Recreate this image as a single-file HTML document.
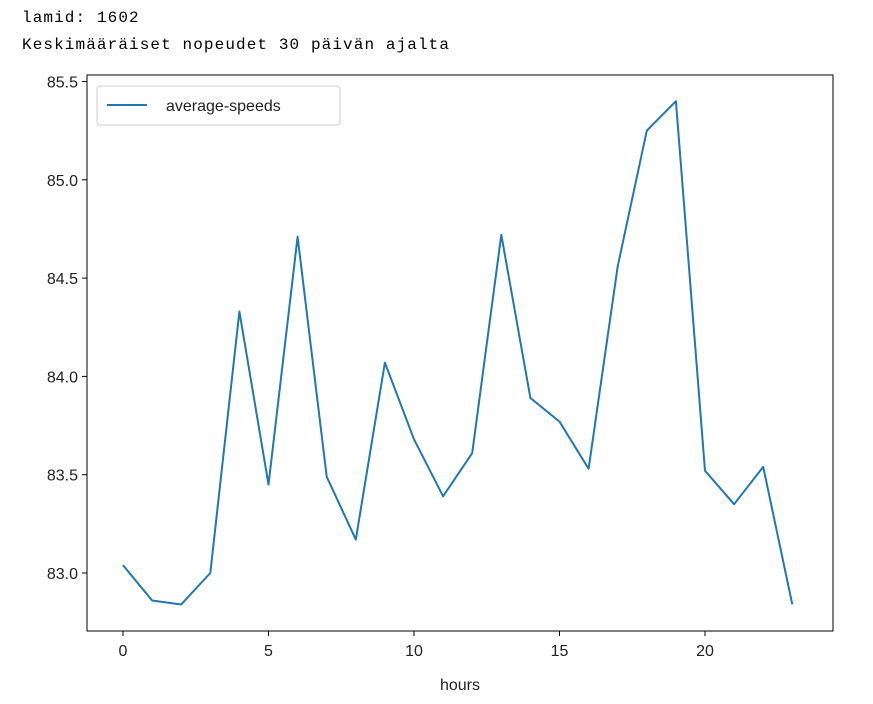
<!DOCTYPE html>
<html><head><meta charset="utf-8"><style>
body{margin:0;background:#fff;width:873px;height:704px;overflow:hidden;}
.hdr{position:absolute;left:22px;font-family:"Liberation Mono",monospace;font-size:16px;letter-spacing:1.1px;color:#000;}
svg{position:absolute;left:0;top:0;}
text{font-family:"Liberation Sans",sans-serif;font-size:16px;fill:#222;}
</style></head><body>
<div class="hdr" style="top:9px">lamid: 1602</div>
<div class="hdr" style="top:36px">Keskimääräiset nopeudet 30 päivän ajalta</div>
<svg id="chart" width="873" height="704"></svg>
<script>
const hours=[0,1,2,3,4,5,6,7,8,9,10,11,12,13,14,15,16,17,18,19,20,21,22,23];
const speeds=[83.04,82.86,82.84,83.00,84.33,83.45,84.71,83.49,83.17,84.07,83.68,83.39,83.61,84.72,83.89,83.77,83.53,84.56,85.25,85.40,83.52,83.35,83.54,82.84];
const xTicks=[0,5,10,15,20];
const yTicks=[83.0,83.5,84.0,84.5,85.0,85.5];
const L=87,R=833,T=75,B=631;
const xs=v=>123+v*29.1;
const ys=v=>573-(v-83)*196.6;
const svg=document.getElementById('chart');
const NS='http://www.w3.org/2000/svg';
function mk(t,a){const e=document.createElementNS(NS,t);for(const k in a)e.setAttribute(k,a[k]);svg.appendChild(e);return e;}
const frame=mk('rect',{x:L,y:T,width:R-L,height:B-T,fill:'none',stroke:'#000','stroke-width':1});


xTicks.forEach(v=>{
 const l=mk('line',{x1:xs(v),x2:xs(v),y1:B,y2:B+5,stroke:'#000'});
 
 
 const t=mk('text',{x:xs(v),y:B+25,'text-anchor':'middle'});t.textContent=v;
 
 
});
yTicks.forEach(v=>{
 const l=mk('line',{x1:L-5,x2:L,y1:ys(v),y2:ys(v),stroke:'#000'});
 
 
 const t=mk('text',{x:L-9,y:ys(v)+6,'text-anchor':'end'});t.textContent=v.toFixed(1);
 
 
});
const xt=mk('text',{x:(L+R)/2,y:B+59,'text-anchor':'middle'});xt.textContent='hours';


const pts=hours.map((h,i)=>xs(h)+','+ys(speeds[i])).join(' ');
const pl=mk('polyline',{points:pts,fill:'none',stroke:'#1f77b4','stroke-width':2,'stroke-linejoin':'round'});


const lg=mk('rect',{x:97,y:86,width:243,height:39,rx:3,fill:'#fff',stroke:'#ccc'});


const ll=mk('line',{x1:107,x2:147,y1:105,y2:105,stroke:'#1f77b4','stroke-width':2});


const lt=mk('text',{x:166,y:111,'font-size':'17'});lt.textContent='average-speeds';


</script>
</body></html>
